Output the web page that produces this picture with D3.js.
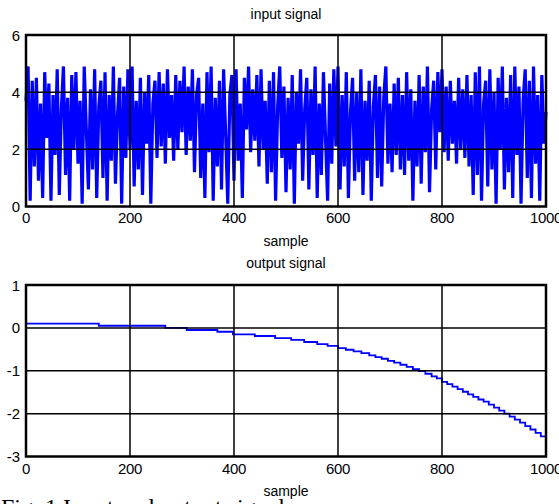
<!DOCTYPE html>
<html>
<head>
<meta charset="utf-8">
<script src="https://cdn.jsdelivr.net/npm/d3@7"></script>
<style>
  html, body { margin: 0; padding: 0; background: #fff; overflow: hidden; }
  svg { display: block; }
  text { font-family: Arial, "Liberation Sans", sans-serif; fill: #000; }
  text.caption { font-family: "Times New Roman", "Liberation Serif", serif; }
</style>
</head>
<body>
<svg id="fig" width="559" height="504"></svg>
<script>
// Input signal, one value every 4 samples (0..1000)
const inputSignal = [
  3.7, 4.9, 0.2, 4.4, 1.4, 4.5, 0.9, 3.6, 0.3, 4.7, 2.4, 4.3, 0.2, 3.9, 1.8, 4.8, 0.4, 3.4, 4.9, 1.1, 3.8, 0.2, 4.6, 2.0, 4.7,
  1.5, 3.7, 0.1, 4.9, 2.7, 0.6, 4.1, 1.3, 4.8, 0.3, 3.5, 4.4, 1.0, 4.7, 0.2, 3.9, 1.6, 4.9, 0.8, 3.2, 4.5, 0.1, 4.2, 1.7, 4.8,
  2.0, 4.9, 0.7, 3.7, 1.3, 4.5, 0.4, 4.0, 2.2, 4.6, 0.1, 3.6, 4.4, 1.7, 4.7, 2.1, 4.3, 1.5, 4.8, 2.4, 3.9, 1.6, 4.6, 2.0, 4.4,
  2.6, 4.9, 1.8, 4.2, 2.3, 4.8, 1.2, 3.9, 4.5, 1.0, 3.6, 0.3, 4.7, 1.9, 4.9, 0.2, 3.8, 1.4, 4.4, 0.6, 4.8, 2.5, 0.1, 3.9, 4.6,
  0.9, 4.8, 1.6, 3.6, 0.3, 4.5, 2.7, 4.9, 1.9, 4.1, 2.3, 4.6, 1.4, 4.8, 2.0, 3.7, 0.8, 4.4, 1.2, 4.7, 0.2, 3.5, 4.9, 1.7, 4.2,
  0.5, 3.8, 1.3, 4.6, 0.1, 4.0, 2.2, 4.8, 0.9, 3.4, 4.5, 0.6, 4.1, 1.8, 4.9, 0.3, 3.6, 1.1, 4.7, 2.4, 0.2, 4.3, 1.5, 4.8, 2.1,
  4.9, 0.6, 3.9, 1.4, 4.7, 0.3, 3.3, 4.5, 0.9, 4.0, 1.2, 4.8, 0.4, 3.7, 1.6, 4.4, 0.2, 3.5, 4.6, 1.0, 4.2, 0.7, 3.8, 4.9, 1.5,
  3.6, 1.2, 4.3, 1.8, 4.5, 1.3, 3.9, 1.1, 4.7, 1.6, 4.1, 0.2, 3.7, 1.4, 4.6, 0.8, 4.2, 1.9, 4.9, 0.5, 3.4, 4.4, 1.3, 4.7, 2.6,
  4.8, 1.9, 4.2, 1.6, 4.4, 2.2, 3.7, 1.5, 4.5, 2.0, 4.1, 1.7, 4.6, 1.4, 3.9, 0.4, 4.7, 1.1, 4.9, 0.2, 3.6, 4.4, 0.7, 4.8, 1.3,
  4.0, 0.1, 4.5, 2.0, 4.9, 0.6, 3.8, 1.2, 4.6, 0.3, 4.9, 1.8, 4.2, 0.1, 3.7, 4.8, 1.0, 4.4, 0.3, 4.9, 1.5, 3.9, 0.2, 4.6, 2.2,
  3.3
];
const inputStep = 4;

// Output signal: sample index where each level starts, and the level
const outputSamples = [0, 140, 268, 309, 368, 398, 440, 479, 510, 535, 560, 580, 600, 615, 630, 645, 660, 672, 684, 696,
  708, 720, 732, 744, 756, 768, 780, 790, 800, 810, 820, 830, 840, 850, 860, 870, 880, 890, 900, 910,
  920, 930, 940, 950, 960, 970, 980, 990, 1000];
const outputValues = [0.10, 0.05, 0.00, -0.05, -0.09, -0.15, -0.19, -0.24, -0.28, -0.33, -0.38, -0.42, -0.47, -0.51, -0.55, -0.59, -0.64, -0.68, -0.72, -0.77,
  -0.81, -0.86, -0.91, -0.96, -1.01, -1.07, -1.13, -1.18, -1.26, -1.31, -1.37, -1.43, -1.49, -1.55, -1.61, -1.67, -1.72, -1.79, -1.86, -1.93,
  -2.00, -2.07, -2.14, -2.21, -2.29, -2.37, -2.45, -2.53, -2.62];

const xTicks = [0, 200, 400, 600, 800, 1000];
const inputTicks = [0, 2, 4, 6];
const outputTicks = [-3, -2, -1, 0, 1];

const titles = ["input signal", "output signal"];
const xLabel = "sample";
const caption = "Fig. 1 Input and output signals";

const svg = d3.select("#fig");
const left = 26, right = 546;
const x = d3.scaleLinear().domain([0, 1000]).range([left, right]);

function panel(top, bottom, yDomain, yTicks, data, curve, width, title, titleY, tickY, labelY) {
  const y = d3.scaleLinear().domain(yDomain).range([bottom, top]);
  const g = svg.append("g");

  g.append("path")
    .datum(data)
    .attr("fill", "none")
    .attr("stroke", "#0000ff")
    .attr("stroke-width", width)
    .attr("stroke-linejoin", "miter")
    .attr("d", d3.line().x(d => x(d[0])).y(d => y(d[1])).curve(curve));

  // grid lines
  g.selectAll(".gx").data(xTicks.slice(1, -1)).enter().append("line")
    .attr("x1", d => x(d)).attr("x2", d => x(d))
    .attr("y1", top).attr("y2", bottom)
    .attr("stroke", "#000").attr("stroke-width", 1.5);
  g.selectAll(".gy").data(yTicks.slice(1, -1)).enter().append("line")
    .attr("x1", left).attr("x2", right)
    .attr("y1", d => y(d)).attr("y2", d => y(d))
    .attr("stroke", "#000").attr("stroke-width", 1.5);

  // axes box
  g.append("rect")
    .attr("x", left).attr("y", top)
    .attr("width", right - left).attr("height", bottom - top)
    .attr("fill", "none").attr("stroke", "#000").attr("stroke-width", 2.5);

  // tick labels
  g.selectAll(".ty").data(yTicks).enter().append("text")
    .attr("x", left - 6).attr("y", d => y(d))
    .attr("text-anchor", "end").attr("dominant-baseline", "central")
    .attr("font-size", 15)
    .text(d => String(d));
  g.selectAll(".tx").data(xTicks).enter().append("text")
    .attr("x", d => x(d)).attr("y", tickY)
    .attr("text-anchor", "middle")
    .attr("font-size", 15)
    .attr("letter-spacing", -0.3)
    .text(d => d);

  g.append("text").attr("x", (left + right) / 2).attr("y", titleY)
    .attr("text-anchor", "middle").attr("font-size", 14).text(title);
  g.append("text").attr("x", (left + right) / 2).attr("y", labelY)
    .attr("text-anchor", "middle").attr("font-size", 14).text(xLabel);
}

panel(35, 206.5, [0, 6], inputTicks,
  inputSignal.map((v, i) => [i * inputStep, v]),
  d3.curveLinear, 3.2, titles[0], 19, 223, 246);

panel(285, 456.5, [-3, 1], outputTicks,
  outputSamples.map((s, i) => [s, outputValues[i]]),
  d3.curveStepAfter, 1.8, titles[1], 268, 474, 496);

svg.append("text")
  .attr("class", "caption")
  .attr("x", 1).attr("y", 515)
  .attr("font-size", 24)
  .text(caption);
</script>
</body>
</html>
